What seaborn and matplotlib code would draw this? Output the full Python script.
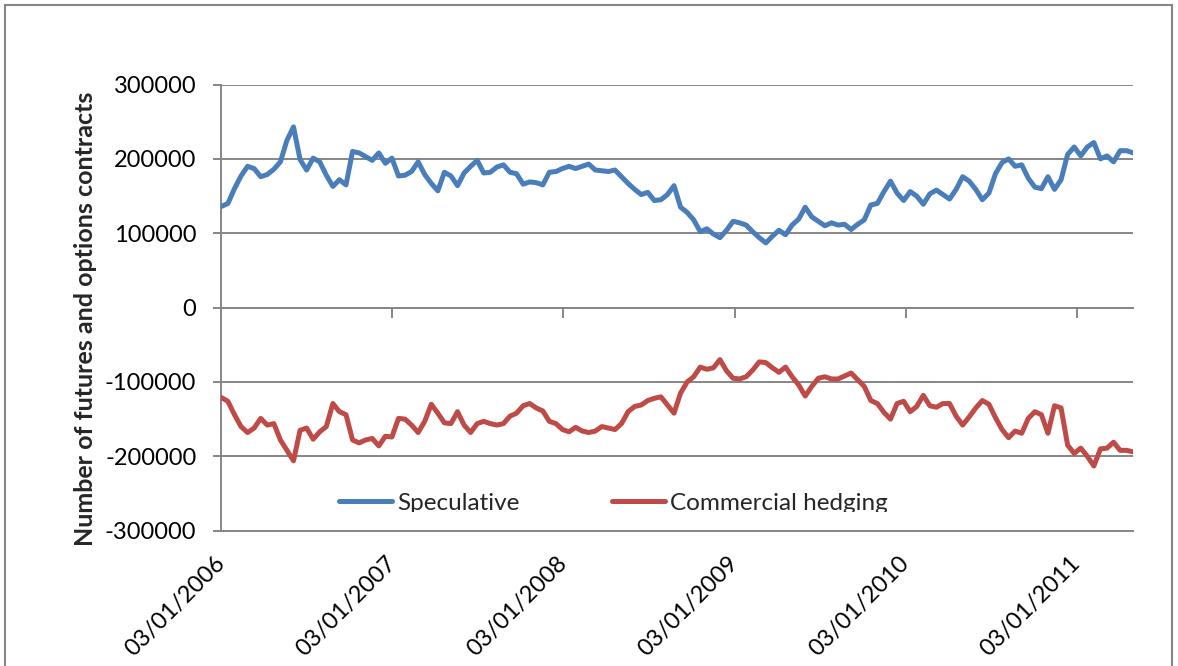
import pandas as pd
import numpy as np
import seaborn as sns
import matplotlib.pyplot as plt
import matplotlib.dates as mdates
from matplotlib.lines import Line2D
from matplotlib.transforms import Bbox, TransformedBbox

# ------------------------------------------------------------------
# data (two-weekly readings, contracts in thousands)
start_date = '2006-01-03'
step_days = 14

speculative_k = [136, 140, 160, 177, 190, 187, 176, 179, 186, 196,
                 225, 243, 199, 185, 201, 196, 178, 163, 172, 165,
                 210, 208, 203, 198, 208, 194, 201, 177, 178, 183,
                 196, 179, 167, 157, 182, 177, 164, 181, 190, 198,
                 181, 182, 189, 192, 182, 180, 166, 169, 168, 165,
                 182, 183, 187, 190, 187, 190, 193, 185, 184, 183,
                 185, 176, 167, 159, 152, 155, 144, 145, 152, 164,
                 135, 128, 118, 102, 106, 99, 94, 104, 116, 114,
                 111, 102, 94, 87, 96, 104, 98, 111, 119, 135,
                 122, 116, 110, 114, 111, 112, 105, 112, 118, 138,
                 140, 156, 170, 154, 144, 156, 150, 139, 153, 158,
                 152, 146, 159, 176, 170, 159, 145, 154, 180, 195,
                 200, 190, 192, 174, 162, 160, 176, 159, 172, 206,
                 216, 204, 216, 222, 200, 204, 196, 211, 211, 208]

hedging_k = [-121, -126, -144, -160, -168, -162, -149, -158, -156, -178,
             -192, -206, -165, -162, -177, -167, -160, -129, -140, -144,
             -178, -182, -178, -176, -186, -173, -174, -149, -150, -158,
             -168, -153, -130, -142, -155, -156, -140, -158, -168, -156,
             -153, -156, -158, -156, -146, -142, -132, -129, -135, -139,
             -153, -156, -164, -167, -161, -166, -168, -166, -160, -162,
             -164, -156, -140, -133, -131, -125, -122, -120, -131, -142,
             -115, -100, -93, -80, -83, -81, -70, -85, -95, -96,
             -93, -84, -73, -74, -81, -87, -80, -93, -104, -119,
             -106, -95, -93, -96, -96, -92, -88, -97, -106, -125,
             -129, -141, -150, -129, -126, -140, -133, -118, -132, -134,
             -129, -129, -146, -158, -147, -135, -125, -130, -148, -164,
             -175, -166, -169, -149, -140, -144, -169, -132, -135, -185,
             -196, -189, -200, -213, -190, -189, -181, -192, -192, -194]

series_names = ['Speculative', 'Commercial hedging']
series_colors = ['#4A7EBB', '#BE4B48']
tick_dates = ['2006-01-03', '2007-01-03', '2008-01-03',
              '2009-01-03', '2010-01-03', '2011-01-03']
y_ticks = [300000, 200000, 100000, 0, -100000, -200000, -300000]
y_label = 'Number of futures and options contracts'

#-------------------------------------------------------------------
# table long format pour seaborn
dates = pd.date_range(start_date, periods=len(speculative_k), freq=f'{step_days}D')
df = pd.concat([
    pd.DataFrame({'Date': dates, 'Contracts': np.array(speculative_k) * 1000, 'Series': series_names[0]}),
    pd.DataFrame({'Date': dates, 'Contracts': np.array(hedging_k) * 1000, 'Series': series_names[1]}),
])

sns.set_theme(style='white')
plt.rcParams['font.family'] = ['Lato', 'DejaVu Sans']
grid_col = '#868686'

fig, ax = plt.subplots(figsize=(11.78, 6.66), dpi=100)
fig.subplots_adjust(left=0.1879, right=0.962, top=0.8731, bottom=0.2032)

sns.lineplot(data=df, x='Date', y='Contracts', hue='Series',
             palette=dict(zip(series_names, series_colors)),
             linewidth=3.6, legend=False, ax=ax, zorder=3)

# axes / grid
ax.set_ylim(-300000, 300000)
ax.set_yticks(y_ticks)
ax.set_yticklabels([str(v) for v in y_ticks])
ax.set_xlim(dates[0], dates[-1])
ax.set_xticks(pd.to_datetime(tick_dates))
ax.xaxis.set_major_formatter(mdates.DateFormatter('%d/%m/%Y'))
ax.grid(axis='y', color=grid_col, linewidth=1.4)
ax.grid(axis='x', visible=False)
ax.set_axisbelow(True)

for s in ['top', 'right']:
    ax.spines[s].set_visible(False)
for s in ['left', 'bottom']:
    ax.spines[s].set_color(grid_col)
    ax.spines[s].set_linewidth(1.4)

ax.tick_params(axis='y', direction='out', length=6, width=1.4, color=grid_col,
               pad=12, labelsize=17, labelcolor='black', left=True)
ax.tick_params(axis='x', length=0, pad=21, labelsize=17, labelcolor='black')
for lab in ax.get_xticklabels():
    lab.set_rotation(45)
    lab.set_ha('right')
    lab.set_va('center')
    lab.set_rotation_mode('anchor')

# axe horizontal a zero avec les graduations annuelles
sec = ax.secondary_xaxis(0.5)
sec.set_xticks(pd.to_datetime(tick_dates))
sec.tick_params(axis='x', direction='in', length=7, width=1.4, color=grid_col,
                labeltop=False, labelbottom=False)
sec.spines['top'].set_color(grid_col)
sec.spines['top'].set_linewidth(1.4)

ax.set_xlabel('')
ax.set_ylabel(y_label, fontsize=18, fontweight='bold', va='center')
ax.yaxis.set_label_coords(-0.1495, 0.4745)

handles = [Line2D([], [], color=c, linewidth=3.6) for c in series_colors]
leg = ax.legend(handles, series_names, loc='center', bbox_to_anchor=(0.43, 0.062),
                ncol=2, frameon=False, fontsize=17.5, handlelength=2.2,
                handletextpad=0.2, columnspacing=3.8)
# le texte de la legende est coupe en bas comme dans l'original
clip = TransformedBbox(Bbox([[0, 1 - 512 / 666], [1, 1]]), fig.transFigure)
for t in leg.get_texts():
    t.set_clip_box(clip)
    t.set_clip_on(True)

# cadre du graphique
fig.patches.append(plt.Rectangle((0.00424, -0.05), 0.99067, 1.04249, transform=fig.transFigure,
                                 fill=False, edgecolor=grid_col, linewidth=1.5))

plt.savefig('out.png', dpi=100)
